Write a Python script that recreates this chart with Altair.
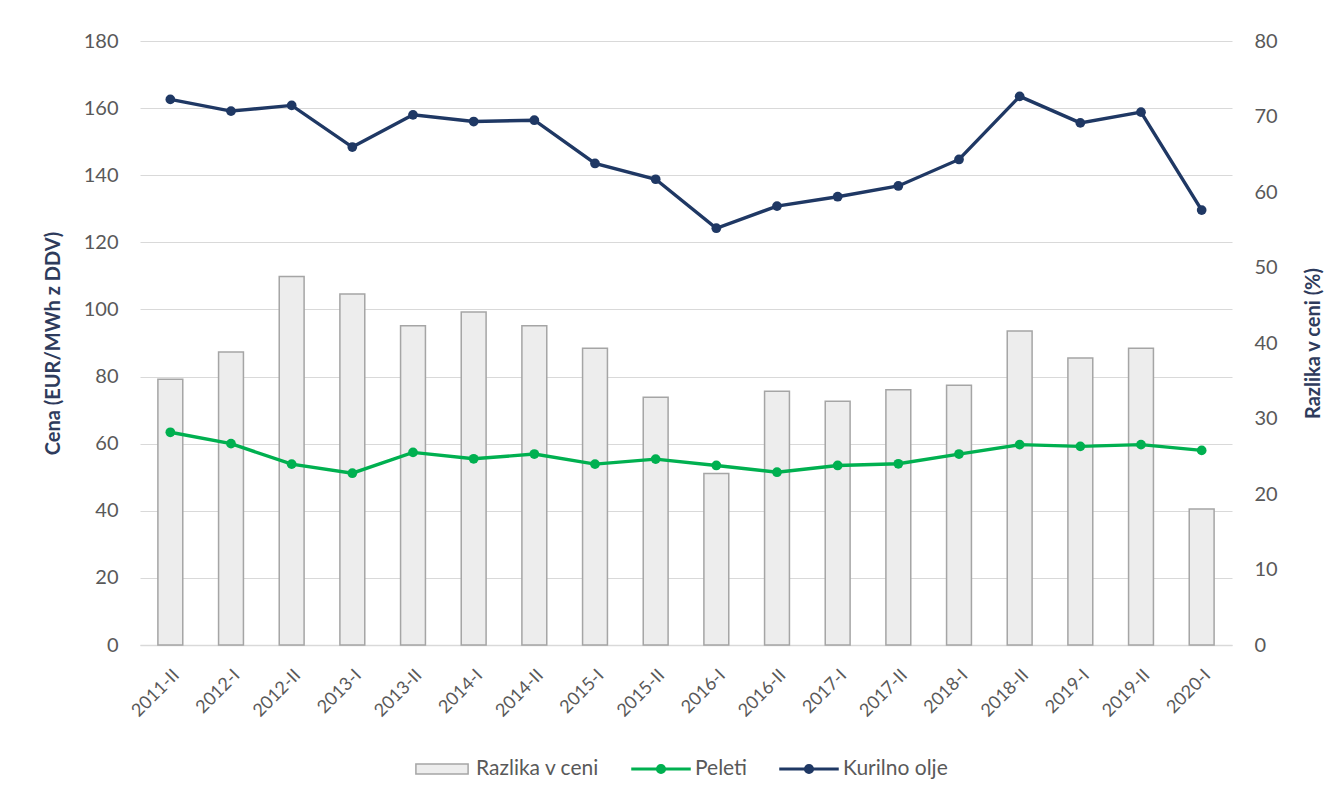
import altair as alt
import pandas as pd

periods = ["2011-II", "2012-I", "2012-II", "2013-I", "2013-II", "2014-I", "2014-II",
           "2015-I", "2015-II", "2016-I", "2016-II", "2017-I", "2017-II", "2018-I",
           "2018-II", "2019-I", "2019-II", "2020-I"]
razlika = [35.2, 38.8, 48.8, 46.5, 42.3, 44.1, 42.3, 39.3, 32.8, 22.7, 33.6, 32.3,
           33.8, 34.4, 41.6, 38.0, 39.3, 18.0]
peleti = [63.4, 60.0, 53.9, 51.2, 57.4, 55.5, 56.9, 53.9, 55.4, 53.5, 51.5, 53.5,
          54.0, 56.9, 59.7, 59.2, 59.7, 58.0]
kurilno = [162.6, 159.1, 160.8, 148.4, 158.0, 156.0, 156.4, 143.5, 138.8, 124.2, 130.8,
           133.6, 136.8, 144.7, 163.5, 155.6, 158.8, 129.6]

series_names = ["Razlika v ceni", "Peleti", "Kurilno olje"]
fill_colors = ["#ededed", "#00b050", "#1f3864"]
stroke_colors = ["#a5a5a5", "#00b050", "#1f3864"]

FONT = "Lato"
LABEL_COLOR = "#595959"
TITLE_COLOR = "#2e3b5c"

bars_df = pd.DataFrame({"period": periods, "value": razlika, "series": series_names[0]})
lines_df = pd.DataFrame({
    "period": periods + periods,
    "value": peleti + kurilno,
    "series": [series_names[1]] * len(periods) + [series_names[2]] * len(periods),
})

x_enc = alt.X(
    "period:N", sort=periods, title=None,
    scale=alt.Scale(paddingInner=0.59, paddingOuter=0.295),
    axis=alt.Axis(labelAngle=-45, labelFontSize=18, labelColor=LABEL_COLOR, labelFont=FONT,
                  ticks=False, domainColor="#d9d9d9", domainWidth=1.5, labelPadding=21, grid=False),
)

line_shape = "M-1,-0.03H1V0.03H-1Z M0.15,0A0.15,0.15 0 1,1 -0.15,0A0.15,0.15 0 1,1 0.15,0Z"
rect_shape = "M-0.9,-0.17H0.9V0.17H-0.9Z"

legend = alt.Legend(
    orient="none", legendX=272, legendY=698, direction="horizontal", title=None,
    symbolSize=3364, labelFontSize=21, labelColor=LABEL_COLOR, labelFont=FONT,
    columnPadding=29, labelOffset=4, symbolStrokeWidth=1.5, symbolOpacity=1,
    symbolType=alt.ExprRef(expr=f"datum.value === 'Razlika v ceni' ? '{rect_shape}' : '{line_shape}'"),
)

fill_scale = alt.Scale(domain=series_names, range=fill_colors)
stroke_scale = alt.Scale(domain=series_names, range=stroke_colors)

y_right = alt.Y("value:Q", scale=alt.Scale(domain=[0, 80], nice=False),
                axis=alt.Axis(orient="right", values=list(range(0, 81, 10)), grid=False,
                              domain=False, ticks=False, title="Razlika v ceni (%)",
                              titleAngle=270, titleFont=FONT, titleFontSize=20,
                              titleFontWeight="bold", titleColor=TITLE_COLOR, titlePadding=46,
                              labelFontSize=20, labelColor=LABEL_COLOR, labelFont=FONT,
                              labelPadding=22))

bars = alt.Chart(bars_df).mark_bar(opacity=1, strokeWidth=1.5).encode(
    x=x_enc, y=y_right,
    fill=alt.Fill("series:N", scale=fill_scale, legend=legend),
    stroke=alt.Stroke("series:N", scale=stroke_scale, legend=legend),
)

lines = alt.Chart(lines_df).mark_line(
    strokeWidth=3.4, point=alt.OverlayMarkDef(size=95, filled=True, opacity=1)
).encode(
    x=x_enc,
    y=alt.Y("value:Q", scale=alt.Scale(domain=[0, 180], nice=False),
            axis=alt.Axis(orient="left", values=list(range(0, 181, 20)), grid=True,
                          gridColor="#d9d9d9", gridWidth=1.2, domain=False, ticks=False,
                          title="Cena (EUR/MWh z DDV)", titleFont=FONT, titleFontSize=20,
                          titleFontWeight="bold", titleColor=TITLE_COLOR, titlePadding=20,
                          labelFontSize=20, labelColor=LABEL_COLOR, labelFont=FONT,
                          labelPadding=22)),
    color=alt.Color("series:N", scale=alt.Scale(domain=series_names, range=fill_colors),
                    legend=None),
    detail="series:N",
)

chart = alt.layer(bars, lines).resolve_scale(y="independent").properties(
    width=1092, height=604,
    autosize=alt.AutoSizeParams(type="none"),
    padding={"left": 132, "top": 33, "right": 100, "bottom": 140},
    background="white",
).configure_view(stroke=None)

chart.save("out.html", embed_options={"renderer": "svg", "actions": False})
